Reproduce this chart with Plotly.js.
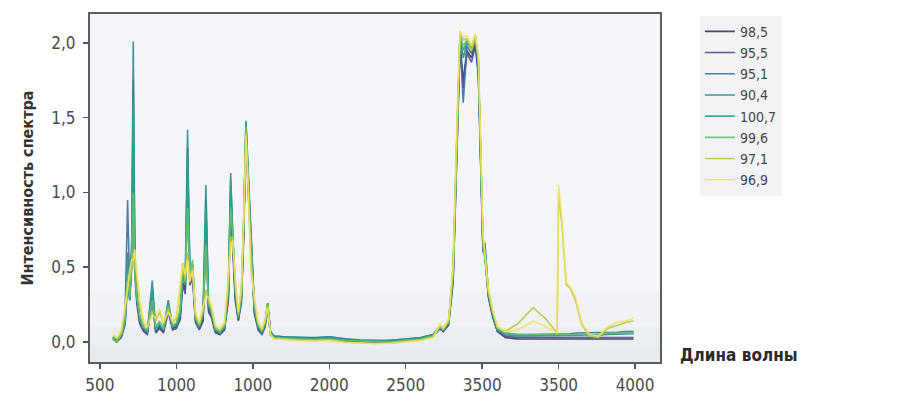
<!DOCTYPE html>
<html>
<head>
<meta charset="utf-8">
<script src="https://cdn.plot.ly/plotly-3.0.1.min.js"></script>
<style>
  html, body { margin: 0; padding: 0; background: #ffffff; }
  #chart { width: 900px; height: 400px; }
</style>
</head>
<body>
<div id="chart"></div>
<script>
// Wavenumber sample positions
const wavelength = [585, 610, 640, 665, 681, 695, 708, 718, 728, 742, 760, 785, 810, 842, 865, 890, 915, 947, 975, 1000,
  1025, 1041, 1058, 1073, 1088, 1106, 1125, 1150, 1175, 1193, 1210, 1230, 1255, 1285, 1315, 1340, 1355, 1368, 1385, 1405,
  1425, 1440, 1455, 1470, 1487, 1510, 1535, 1560, 1580, 1597, 1615, 1640, 1700, 1800, 1900, 2000, 2100, 2200, 2300, 2400,
  2500, 2600, 2680, 2724, 2745, 2780, 2810, 2835, 2855, 2876, 2900, 2930, 2955, 2975, 2990, 3005, 3018, 3040, 3070, 3100,
  3150, 3230, 3334, 3420, 3490, 3500, 3520, 3550, 3575, 3610, 3650, 3700, 3760, 3820, 3880, 3940, 3990];

const seriesNames = ["98,5", "95,5", "95,1", "90,4", "100,7", "99,6", "97,1", "96,9"];
const seriesColors = ["#3e3552", "#4a4d8c", "#3f6fa0", "#2f8a8e", "#2aa68a", "#6cbf6c", "#b3cb4a", "#f3e15c"];

const s98_5 = [0.03, 0.01, 0.04, 0.15, 0.45, 0.30, 0.55, 1.30, 0.50, 0.28, 0.14, 0.08, 0.06, 0.30, 0.07, 0.10, 0.07, 0.22, 0.09, 0.10,
  0.16, 0.40, 0.35, 1.10, 0.40, 0.45, 0.14, 0.09, 0.15, 0.80, 0.22, 0.17, 0.07, 0.05, 0.09, 0.30, 0.95, 0.65, 0.30, 0.15,
  0.28, 0.72, 1.40, 1.05, 0.68, 0.20, 0.09, 0.06, 0.11, 0.24, 0.06, 0.03, 0.03, 0.02, 0.02, 0.025, 0.01, 0.0, -0.005, 0.0,
  0.01, 0.02, 0.04, 0.09, 0.07, 0.12, 0.42, 1.35, 2.00, 1.75, 1.95, 1.90, 2.00, 1.80, 1.15, 0.62, 0.60, 0.30, 0.16, 0.07,
  0.03, 0.02, 0.02, 0.02, 0.015, 0.015, 0.015, 0.015, 0.015, 0.015, 0.015, 0.015, 0.015, 0.015, 0.015, 0.02, 0.02];
const s95_5 = [0.02, 0.00, 0.03, 0.12, 0.40, 0.28, 0.50, 1.20, 0.45, 0.25, 0.12, 0.07, 0.05, 0.28, 0.06, 0.09, 0.06, 0.20, 0.08, 0.09,
  0.15, 0.38, 0.32, 1.00, 0.38, 0.42, 0.13, 0.08, 0.14, 0.75, 0.20, 0.16, 0.06, 0.05, 0.08, 0.28, 0.90, 0.62, 0.28, 0.14,
  0.26, 0.70, 1.38, 1.00, 0.65, 0.19, 0.08, 0.05, 0.10, 0.22, 0.05, 0.03, 0.03, 0.025, 0.02, 0.03, 0.01, 0.005, 0.0, 0.0,
  0.01, 0.02, 0.04, 0.09, 0.07, 0.11, 0.40, 1.30, 1.98, 1.70, 1.93, 1.87, 1.98, 1.78, 1.10, 0.60, 0.65, 0.32, 0.17, 0.07,
  0.04, 0.03, 0.03, 0.03, 0.025, 0.025, 0.025, 0.025, 0.025, 0.025, 0.025, 0.025, 0.025, 0.03, 0.03, 0.03, 0.03];
const s95_1 = [0.03, 0.01, 0.04, 0.20, 0.95, 0.35, 0.60, 1.75, 0.55, 0.30, 0.15, 0.09, 0.06, 0.35, 0.08, 0.11, 0.08, 0.25, 0.10, 0.11,
  0.18, 0.45, 0.38, 1.30, 0.45, 0.50, 0.15, 0.10, 0.18, 0.95, 0.25, 0.18, 0.08, 0.06, 0.10, 0.33, 1.05, 0.70, 0.33, 0.16,
  0.30, 0.75, 1.45, 1.10, 0.76, 0.22, 0.10, 0.06, 0.12, 0.26, 0.07, 0.04, 0.035, 0.03, 0.025, 0.035, 0.02, 0.01, 0.005, 0.01,
  0.02, 0.03, 0.05, 0.10, 0.08, 0.13, 0.45, 1.40, 2.02, 1.60, 1.98, 1.93, 2.02, 1.85, 1.20, 0.66, 0.66, 0.34, 0.18, 0.08,
  0.06, 0.05, 0.05, 0.05, 0.05, 0.05, 0.055, 0.055, 0.055, 0.06, 0.06, 0.06, 0.06, 0.065, 0.065, 0.07, 0.07];
const s90_4 = [0.02, 0.00, 0.05, 0.18, 0.60, 0.30, 0.70, 2.01, 0.60, 0.32, 0.16, 0.10, 0.06, 0.41, 0.08, 0.12, 0.08, 0.28, 0.10, 0.12,
  0.20, 0.48, 0.40, 1.42, 0.48, 0.52, 0.16, 0.11, 0.20, 1.05, 0.26, 0.20, 0.08, 0.06, 0.10, 0.35, 1.13, 0.72, 0.35, 0.17,
  0.30, 0.78, 1.48, 1.12, 0.74, 0.24, 0.10, 0.07, 0.13, 0.26, 0.07, 0.04, 0.035, 0.03, 0.03, 0.035, 0.02, 0.015, 0.01, 0.01,
  0.02, 0.03, 0.05, 0.11, 0.08, 0.13, 0.48, 1.45, 2.05, 1.90, 2.00, 1.96, 2.04, 1.86, 1.22, 0.66, 0.58, 0.32, 0.18, 0.08,
  0.05, 0.04, 0.04, 0.04, 0.04, 0.04, 0.04, 0.04, 0.04, 0.04, 0.045, 0.045, 0.045, 0.05, 0.05, 0.05, 0.055];
const s100_7 = [0.03, 0.01, 0.04, 0.14, 0.50, 0.28, 0.60, 1.60, 0.50, 0.30, 0.15, 0.09, 0.07, 0.36, 0.08, 0.12, 0.08, 0.26, 0.10, 0.11,
  0.18, 0.45, 0.38, 1.25, 0.45, 0.50, 0.15, 0.10, 0.18, 0.90, 0.25, 0.19, 0.08, 0.06, 0.10, 0.33, 1.08, 0.73, 0.34, 0.16,
  0.30, 0.76, 1.46, 1.10, 0.72, 0.22, 0.10, 0.06, 0.12, 0.25, 0.06, 0.03, 0.03, 0.025, 0.02, 0.03, 0.015, 0.01, 0.005, 0.005,
  0.015, 0.025, 0.045, 0.10, 0.08, 0.13, 0.46, 1.42, 2.06, 1.95, 2.01, 1.97, 2.05, 1.87, 1.22, 0.64, 0.56, 0.32, 0.18, 0.08,
  0.05, 0.04, 0.045, 0.045, 0.045, 0.045, 0.045, 0.045, 0.045, 0.045, 0.05, 0.05, 0.05, 0.055, 0.055, 0.06, 0.06];
const s99_6 = [0.02, 0.00, 0.05, 0.16, 0.45, 0.30, 0.55, 1.00, 0.45, 0.30, 0.18, 0.10, 0.08, 0.28, 0.10, 0.14, 0.09, 0.24, 0.11, 0.13,
  0.22, 0.50, 0.40, 0.90, 0.45, 0.55, 0.16, 0.11, 0.20, 0.65, 0.26, 0.20, 0.09, 0.07, 0.11, 0.36, 0.90, 0.72, 0.36, 0.17,
  0.32, 0.78, 1.44, 1.08, 0.65, 0.24, 0.11, 0.07, 0.13, 0.26, 0.06, 0.03, 0.025, 0.02, 0.015, 0.02, 0.01, 0.005, 0.0, 0.0,
  0.01, 0.02, 0.04, 0.10, 0.08, 0.13, 0.45, 1.42, 2.05, 1.98, 2.02, 1.98, 2.05, 1.88, 1.25, 0.66, 0.56, 0.33, 0.19, 0.09,
  0.06, 0.05, 0.05, 0.05, 0.05, 0.05, 0.05, 0.05, 0.05, 0.05, 0.05, 0.04, 0.05, 0.06, 0.06, 0.06, 0.06];
const s97_1 = [0.04, 0.02, 0.06, 0.22, 0.40, 0.42, 0.50, 0.60, 0.55, 0.40, 0.25, 0.12, 0.10, 0.20, 0.14, 0.20, 0.12, 0.22, 0.13, 0.16,
  0.35, 0.53, 0.42, 0.60, 0.42, 0.50, 0.18, 0.12, 0.22, 0.35, 0.28, 0.22, 0.10, 0.08, 0.12, 0.40, 0.70, 0.70, 0.40, 0.19,
  0.35, 0.80, 1.40, 1.05, 0.52, 0.28, 0.12, 0.08, 0.14, 0.24, 0.05, 0.02, 0.02, 0.01, 0.01, 0.015, 0.0, -0.005, -0.01, -0.005,
  0.005, 0.015, 0.035, 0.11, 0.09, 0.14, 0.50, 1.48, 2.08, 2.02, 2.03, 1.95, 2.03, 1.90, 1.30, 0.70, 0.58, 0.35, 0.20, 0.10,
  0.07, 0.12, 0.23, 0.15, 0.06, 1.00, 0.80, 0.38, 0.36, 0.28, 0.12, 0.04, 0.03, 0.09, 0.11, 0.13, 0.14];
const s96_9 = [0.05, 0.03, 0.08, 0.25, 0.35, 0.48, 0.55, 0.55, 0.62, 0.45, 0.28, 0.14, 0.10, 0.18, 0.16, 0.22, 0.13, 0.20, 0.14, 0.17,
  0.40, 0.52, 0.45, 0.55, 0.40, 0.48, 0.20, 0.13, 0.24, 0.30, 0.30, 0.24, 0.11, 0.09, 0.13, 0.42, 0.65, 0.68, 0.42, 0.20,
  0.36, 0.82, 1.38, 1.02, 0.48, 0.30, 0.13, 0.09, 0.15, 0.23, 0.05, 0.02, 0.015, 0.01, 0.005, 0.01, -0.005, -0.01, -0.01, -0.01,
  0.0, 0.01, 0.03, 0.12, 0.09, 0.15, 0.52, 1.50, 2.08, 2.04, 2.05, 1.98, 2.06, 1.92, 1.35, 0.72, 0.60, 0.36, 0.21, 0.10,
  0.07, 0.08, 0.14, 0.10, 0.06, 1.05, 0.84, 0.40, 0.37, 0.30, 0.13, 0.05, 0.04, 0.10, 0.13, 0.14, 0.16];

const seriesValues = [s98_5, s95_5, s95_1, s90_4, s100_7, s99_6, s97_1, s96_9];

const xTickVals = [500, 1000, 1500, 2000, 2500, 3000, 3500, 4000];
const xTickText = ["500", "1000", "1000", "2000", "2500", "3500", "3500", "4000"];
const yTickVals = [0, 0.5, 1, 1.5, 2];
const yTickText = ["0,0", "0,5", "1,0", "1,5", "2,0"];

const FONT = "'Liberation Sans Narrow', 'DejaVu Sans Condensed', Roboto, sans-serif";

const traces = seriesNames.map((name, i) => ({
  type: 'scatter',
  mode: 'lines',
  name: name,
  x: wavelength,
  y: seriesValues[i],
  line: { color: seriesColors[i], width: 1.6 },
  opacity: 0.9
}));

const layout = {
  width: 900,
  height: 400,
  margin: { l: 90, r: 240, t: 14, b: 38 },
  paper_bgcolor: '#ffffff',
  plot_bgcolor: '#f4f6f9',
  font: { family: FONT, color: '#4a4a4a', size: 17 },
  showlegend: true,
  legend: {
    x: 1.07, xanchor: 'left', y: 0.995, yanchor: 'top',
    bgcolor: '#f2f3f5', borderwidth: 0,
    font: { family: FONT, size: 14, color: '#444' },
    tracegroupgap: 0
  },
  xaxis: {
    range: [435, 4163],
    tickvals: xTickVals, ticktext: xTickText,
    ticks: 'outside', ticklen: 5, tickwidth: 1.5, tickcolor: '#555',
    showline: true, linecolor: '#5c5c5c', linewidth: 2, mirror: true,
    showgrid: false, zeroline: false,
    tickfont: { family: FONT, size: 17, color: '#4a4a4a' },
    ticklabelstandoff: 2
  },
  yaxis: {
    range: [-0.134, 2.194],
    tickvals: yTickVals, ticktext: yTickText,
    ticks: 'outside', ticklen: 5, tickwidth: 1.5, tickcolor: '#555',
    showline: true, linecolor: '#5c5c5c', linewidth: 2, mirror: true,
    showgrid: false, zeroline: false,
    tickfont: { family: FONT, size: 17, color: '#4a4a4a' },
    ticklabelstandoff: 4,
    title: { text: 'Интенсивность спектра', font: { family: FONT, size: 16, color: '#333', weight: 'bold' }, standoff: 14 }
  },
  shapes: [
    { type: 'rect', xref: 'paper', yref: 'paper', x0: 0, x1: 1, y0: 0.10, y1: 0.20, fillcolor: '#f0f2f5', line: { width: 0 }, layer: 'below' },
    { type: 'rect', xref: 'paper', yref: 'paper', x0: 0, x1: 1, y0: 0.04, y1: 0.10, fillcolor: '#ebeef1', line: { width: 0 }, layer: 'below' },
    { type: 'rect', xref: 'paper', yref: 'paper', x0: 0, x1: 1, y0: 0, y1: 0.04, fillcolor: '#e7eaee', line: { width: 0 }, layer: 'below' }
  ],
  annotations: [
    { text: '<b>Длина волны</b>', xref: 'paper', yref: 'paper', x: 1.031, y: 0.02, xanchor: 'left', yanchor: 'middle',
      showarrow: false, font: { family: FONT, size: 17, color: '#2a2a2a' } }
  ]
};

Plotly.newPlot('chart', traces, layout, { displayModeBar: false, staticPlot: true });
</script>
</body>
</html>
